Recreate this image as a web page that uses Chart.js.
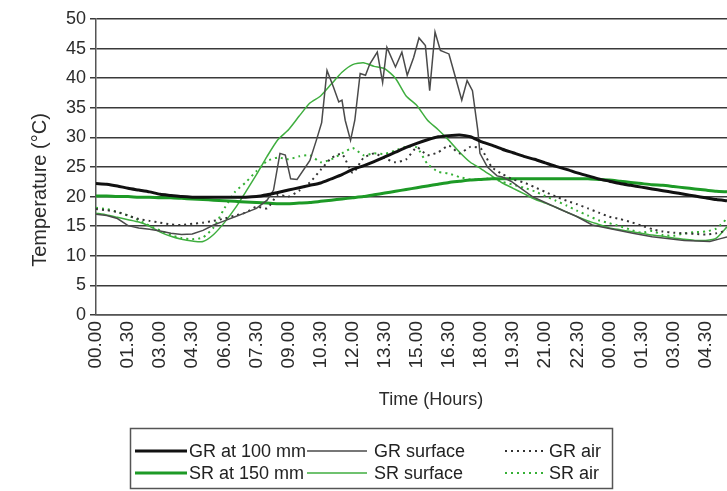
<!DOCTYPE html>
<html>
<head>
<meta charset="utf-8">
<title>Temperature profile</title>
<script src="https://cdn.jsdelivr.net/npm/chart.js@4.4.0/dist/chart.umd.min.js"></script>
<style>
  html, body { margin: 0; padding: 0; background: #fff; }
  #wrap { position: relative; width: 727px; height: 491px; }
</style>
</head>
<body>
<div id="wrap"><canvas id="temp-chart"></canvas></div>
<script>
// hours since midnight of day 1, logged every 30 min
const hours = [0, 0.5, 1, 1.5, 2, 2.5, 3, 3.5, 4, 4.5,
  5, 5.5, 6, 6.5, 7, 7.5, 8, 8.5, 9, 9.5,
  10, 10.5, 11, 11.5, 12, 12.5, 13, 13.5, 14, 14.5,
  15, 15.5, 16, 16.5, 17, 17.5, 18, 18.5, 19, 19.5,
  20, 20.5, 21, 21.5, 22, 22.5, 23, 23.5, 24, 24.5,
  25, 25.5, 26, 26.5, 27, 27.5, 28, 28.5, 29, 29.5];

// tick labels on the time axis (every 1.5 h)
const timeTicks = [0, 1.5, 3, 4.5, 6, 7.5, 9, 10.5, 12, 13.5,
  15, 16.5, 18, 19.5, 21, 22.5, 24, 25.5, 27, 28.5];

const gr100 = [22.2, 22.1, 21.8, 21.4, 21.1, 20.8, 20.4, 20.2, 20.0, 19.9,
  19.9, 19.9, 19.9, 19.9, 19.9, 20.0, 20.3, 20.7, 21.1, 21.5,
  21.9, 22.3, 23.0, 23.7, 24.6, 25.2, 25.9, 26.7, 27.5, 28.3,
  29.0, 29.6, 30.1, 30.3, 30.4, 30.1, 29.3, 28.7, 28.0, 27.4,
  26.8, 26.3, 25.7, 25.1, 24.6, 24.0, 23.5, 23.0, 22.6, 22.2,
  21.9, 21.6, 21.3, 21.0, 20.7, 20.4, 20.1, 19.8, 19.5, 19.3];

const grAir = [17.9, 17.7, 17.4, 16.8, 16.2, 15.9, 15.6, 15.3, 15.2, 15.4,
  15.6, 15.9, 16.3, 16.8, 17.3, 18.3, 18.0, 20.3, 20.0, 21.0,
  22.4, 24.5, 26.5, 27.2, 24.0, 26.5, 27.3, 26.5, 25.8, 26.3,
  28.3, 27.0, 27.5, 28.6, 27.3, 28.4, 28.1, 25.0, 23.8, 22.9,
  22.4, 21.6, 20.8, 20.0, 19.3, 18.7, 18.0, 17.3, 16.6, 16.2,
  15.7, 15.1, 14.5, 14.1, 13.9, 13.8, 13.7, 13.6, 13.8, 14.3];

const sr150 = [20.1, 20.1, 20.0, 20.0, 19.9, 19.9, 19.8, 19.8, 19.7, 19.6,
  19.5, 19.4, 19.3, 19.2, 19.1, 19.0, 18.9, 18.8, 18.8, 18.9,
  19.0, 19.2, 19.4, 19.6, 19.8, 20.0, 20.3, 20.6, 20.9, 21.2,
  21.5, 21.8, 22.1, 22.4, 22.6, 22.8, 22.9, 23.0, 23.0, 23.0,
  23.0, 23.0, 23.0, 23.0, 23.0, 23.0, 23.0, 22.9, 22.8, 22.6,
  22.4, 22.2, 22.0, 21.9, 21.7, 21.5, 21.3, 21.1, 20.9, 20.8];

const srSurface = [17.2, 16.9, 16.5, 16.1, 15.7, 15.0, 14.0, 13.3, 12.8, 12.5,
  12.4, 13.6, 15.6, 18.0, 20.8, 23.7, 26.8, 29.6, 31.3, 33.6,
  35.8, 37.0, 39.0, 41.0, 42.3, 42.6, 42.0, 41.6, 40.0, 37.0,
  35.4, 32.9, 31.3, 29.5, 27.5, 25.8, 24.7, 23.5, 22.3, 21.4,
  20.5, 19.6, 18.9, 18.2, 17.4, 16.6, 15.9, 15.3, 14.7, 14.4,
  14.1, 13.8, 13.5, 13.3, 13.0, 12.8, 12.6, 12.6, 13.0, 14.9];

const srAir = [18.1, 17.9, 17.4, 16.8, 16.0, 15.1, 14.3, 13.5, 13.0, 12.8,
  13.1, 14.8, 18.0, 20.8, 22.4, 24.3, 26.0, 26.6, 26.3, 26.8,
  27.0, 25.8, 26.3, 27.3, 28.2, 27.0, 27.3, 27.2, 27.8, 28.4,
  28.3, 25.5, 24.2, 23.9, 23.3, 22.9, 22.9, 23.1, 22.5, 22.0,
  21.5, 20.9, 20.1, 19.3, 18.5, 17.6, 16.8, 16.0, 15.5, 15.0,
  14.4, 13.9, 14.2, 13.5, 13.4, 13.8, 14.0, 14.1, 14.6, 16.3];

// the GR surface probe was read more often around midday
const surfHours = [0, 0.5, 1, 1.5, 2, 2.5, 3, 3.5, 4, 4.5,
  5, 5.5, 6, 6.5, 7, 7.5, 8, 8.3, 8.6, 8.85,
  9.1, 9.4, 10.0, 10.3, 10.55, 10.8, 11.1, 11.35, 11.5, 11.65,
  11.9, 12.1, 12.35, 12.6, 12.8, 13.15, 13.4, 13.6, 14.0, 14.3,
  14.55, 14.85, 15.1, 15.4, 15.6, 15.85, 16.1, 16.5, 16.8, 17.1,
  17.35, 17.6, 17.85, 17.95, 18.3, 18.75, 19.0, 19.4, 20.4, 21.0,
  21.8, 22.5, 23.2, 24.0, 25.1, 26.0, 27.5, 28.7, 29.2, 29.5];
const grSurface = [17.0, 16.8, 16.3, 15.1, 14.7, 14.5, 14.2, 13.8, 13.6, 13.7,
  14.3, 15.2, 15.9, 16.6, 17.3, 18.0, 19.4, 21.1, 27.3, 27.0,
  23.0, 22.9, 26.1, 29.5, 32.5, 41.3, 38.5, 36.0, 36.3, 32.9,
  29.5, 32.9, 40.8, 40.5, 42.4, 44.4, 39.3, 45.2, 41.9, 44.4,
  40.5, 43.5, 46.8, 45.5, 37.9, 47.8, 44.7, 44.1, 40.2, 36.3,
  39.6, 37.9, 31.2, 27.3, 25.0, 23.5, 23.3, 22.6, 20.0, 19.0,
  17.7, 16.6, 15.2, 14.6, 13.8, 13.2, 12.6, 12.4, 12.9, 13.2];

const FONT = "'Liberation Sans', Arial, sans-serif";
Chart.defaults.font.family = FONT;
Chart.defaults.font.size = 18;
Chart.defaults.color = '#2b2b2b';

function hhmm(h) {
  const hh = Math.floor(h) % 24;
  const mm = Math.round((h - Math.floor(h)) * 60);
  return String(hh).padStart(2, '0') + '.' + String(mm).padStart(2, '0');
}

function pts(xs, ys) {
  return xs.map((x, i) => ({ x: x, y: ys[i] }));
}

// axis titles sit where they were dragged in the original, not centred
const axisTitles = {
  id: 'axisTitles',
  afterDraw(chart) {
    const ctx = chart.ctx;
    ctx.save();
    ctx.fillStyle = '#2b2b2b';
    ctx.textAlign = 'center';
    ctx.textBaseline = 'middle';
    ctx.font = '18px ' + FONT;
    ctx.fillText('Time (Hours)', 431, 400);
    ctx.translate(40, 190);
    ctx.rotate(-Math.PI / 2);
    ctx.font = '20px ' + FONT;
    ctx.fillText('Temperature (°C)', 0, 0);
    ctx.restore();
  }
};

// excel style legend: boxed, three columns
const boxLegend = {
  id: 'boxLegend',
  afterDraw(chart) {
    const ctx = chart.ctx;
    const cols = [{ x: 135, len: 52, tx: 189 }, { x: 307, len: 60, tx: 374 }, { x: 505, len: 40, tx: 549 }];
    const rows = [451, 473];
    ctx.save();
    ctx.strokeStyle = '#555';
    ctx.lineWidth = 1.5;
    ctx.strokeRect(130.5, 428.5, 482, 60);
    chart.data.datasets.forEach((ds, i) => {
      const c = cols[i % 3];
      const y = rows[Math.floor(i / 3)];
      ctx.beginPath();
      ctx.strokeStyle = ds.borderColor;
      ctx.lineWidth = ds.borderWidth;
      ctx.setLineDash(ds.borderDash || []);
      ctx.moveTo(c.x, y);
      ctx.lineTo(c.x + c.len, y);
      ctx.stroke();
      ctx.setLineDash([]);
      ctx.fillStyle = '#222';
      ctx.font = '18px ' + FONT;
      ctx.textBaseline = 'middle';
      ctx.fillText(ds.label, c.tx, y + 1);
    });
    ctx.restore();
  }
};

new Chart(document.getElementById('temp-chart'), {
  type: 'line',
  data: {
    datasets: [
      { label: 'GR at 100 mm', data: pts(hours, gr100), borderColor: '#111111', borderWidth: 3, tension: 0.2 },
      { label: 'GR surface', data: pts(surfHours, grSurface), borderColor: '#4a4a4a', borderWidth: 1.5, tension: 0 },
      { label: 'GR air', data: pts(hours, grAir), borderColor: '#333333', borderWidth: 2, borderDash: [2, 4], tension: 0.2 },
      { label: 'SR at 150 mm', data: pts(hours, sr150), borderColor: '#1d9a26', borderWidth: 3, tension: 0.2 },
      { label: 'SR surface', data: pts(hours, srSurface), borderColor: '#3fae3f', borderWidth: 1.5, tension: 0.2 },
      { label: 'SR air', data: pts(hours, srAir), borderColor: '#35b035', borderWidth: 2, borderDash: [2, 4], tension: 0.2 }
    ]
  },
  options: {
    responsive: true,
    maintainAspectRatio: false,
    animation: false,
    elements: { point: { radius: 0 } },
    layout: { padding: { top: 19, right: 0, bottom: 66, left: 0 } },
    plugins: {
      legend: { display: false },
      tooltip: { enabled: false }
    },
    scales: {
      x: {
        type: 'linear',
        min: 0,
        max: 29.5,
        afterBuildTicks: (scale) => { scale.ticks = timeTicks.map(v => ({ value: v })); },
        afterFit: (scale) => {
          scale.height = 110;
          // plot runs right up to the (cropped) edge
          scale.paddingRight = 0;
          scale.paddingLeft = 0;
        },
        grid: { display: false, drawTicks: false },
        border: { display: true, color: '#555', width: 1.5 },
        ticks: {
          autoSkip: false,
          minRotation: 90,
          maxRotation: 90,
          padding: 6,
          font: { size: 19 },
          callback: (v) => hhmm(v)
        }
      },
      y: {
        min: 0,
        max: 50,
        afterFit: (scale) => { scale.width = 96; },
        grid: { color: '#3a3a3a', lineWidth: 1.5, tickLength: 6 },
        border: { display: true, color: '#555', width: 1.5 },
        ticks: { stepSize: 5, padding: 4 }
      }
    }
  },
  plugins: [axisTitles, boxLegend]
});
</script>
</body>
</html>
